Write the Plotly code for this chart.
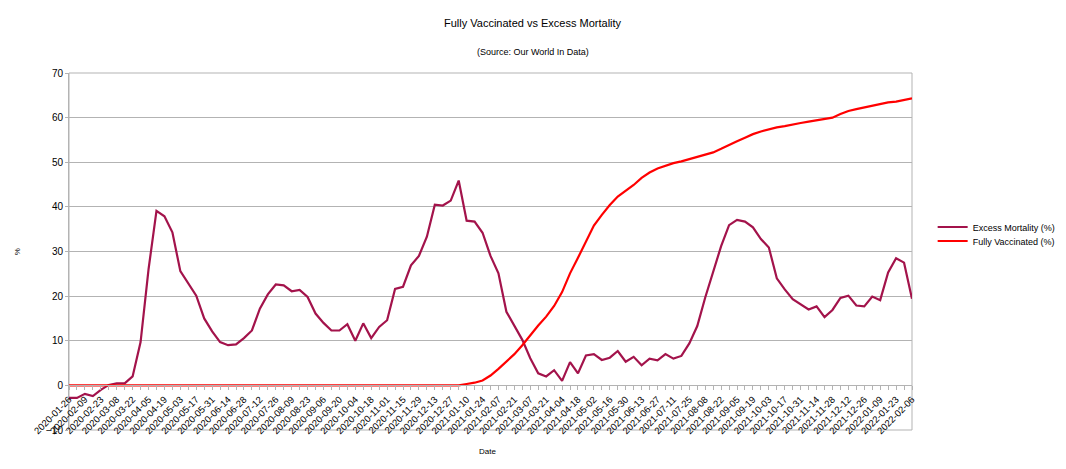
import pandas as pd
import plotly.graph_objects as go

# Weekly dates (categories)
dates = pd.date_range("2020-01-26", periods=107, freq="7D")

excess_mortality = [
    -2.8, -2.8, -1.9, -2.4, -1.0, 0.1, 0.45, 0.45, 2.0, 9.7,
    26.0, 39.1, 37.9, 34.3, 25.6, 23.0, 20.1, 15.0, 12.1, 9.7,
    9.0, 9.2, 10.6, 12.3, 17.2, 20.4, 22.6, 22.4, 21.1, 21.4,
    19.8, 16.1, 14.0, 12.3, 12.3, 13.7, 10.0, 13.9, 10.6, 13.1,
    14.6, 21.6, 22.1, 26.9, 29.0, 33.3, 40.5, 40.3, 41.4, 45.9,
    36.9, 36.7, 34.2, 29.0, 25.1, 16.5, 13.5, 10.2, 6.1, 2.7,
    2.0, 3.4, 1.0, 5.2, 2.7, 6.7, 7.0, 5.7, 6.2, 7.7,
    5.3, 6.4, 4.5, 6.0, 5.6, 7.0, 6.0, 6.6, 9.4, 13.3,
    19.7, 25.2, 31.2, 35.9, 37.1, 36.7, 35.4, 32.8, 30.9, 24.0,
    21.5, 19.3, 18.1, 17.0, 17.7, 15.3, 16.9, 19.6, 20.1, 17.9,
    17.7, 19.9, 19.1, 25.3, 28.5, 27.5, 19.4,
]

fully_vaccinated = [0.0] * 50 + [
    0.3, 0.6, 1.1, 2.2, 3.7, 5.4, 7.0, 9.0, 11.3, 13.4,
    15.4, 17.8, 20.9, 25.1, 28.6, 32.3, 35.8, 38.2, 40.4, 42.3,
    43.5, 44.9, 46.5, 47.7, 48.6, 49.2, 49.8, 50.2, 50.7, 51.1,
    51.6, 52.2, 53.0, 53.9, 54.7, 55.5, 56.3, 56.9, 57.4, 57.8,
    58.1, 58.5, 58.8, 59.1, 59.4, 59.6, 60.0, 60.8, 61.5, 61.9,
    62.3, 62.6, 63.1, 63.4, 63.6, 63.9, 64.3,
]

series_names = ["Excess Mortality (%)", "Fully Vaccinated (%)"]
title_text = "Fully Vaccinated vs Excess Mortality"
subtitle_text = "(Source: Our World In Data)"

FONT = "Liberation Sans, Arial, sans-serif"
GRID = "#b3b3b3"
DAY_MS = 86400000

fig = go.Figure()
fig.add_trace(go.Scatter(x=dates, y=excess_mortality, mode="lines",
                         name=series_names[0], legend="legend",
                         line=dict(color="#a3134b", width=2.2)))
fig.add_trace(go.Scatter(x=dates, y=fully_vaccinated, mode="lines",
                         name=series_names[1], legend="legend2",
                         line=dict(color="#ff0000", width=2.2)))

legend_common = dict(xanchor="left", yanchor="middle",
                     font=dict(size=9, family=FONT, color="#000000"),
                     bgcolor="rgba(0,0,0,0)", borderwidth=0, itemwidth=30)

fig.update_layout(
    width=1066, height=469,
    margin=dict(l=69, r=154, t=73, b=39, autoexpand=False),
    paper_bgcolor="white", plot_bgcolor="white",
    font=dict(family=FONT, size=10, color="#000000"),
    showlegend=True,
    legend=dict(x=1.0245, y=0.5686, **legend_common),
    legend2=dict(x=1.0245, y=0.5294, **legend_common),
    shapes=[dict(type="rect", xref="paper", yref="paper", x0=0, x1=1, y0=0, y1=1,
                 line=dict(color=GRID, width=1), layer="below")],
    annotations=[
        dict(text=title_text, xref="paper", yref="paper", x=0.551, y=1.140,
             xanchor="center", yanchor="middle", showarrow=False,
             font=dict(size=11, family=FONT, color="#000000")),
        dict(text=subtitle_text, xref="paper", yref="paper", x=0.551, y=1.060,
             xanchor="center", yanchor="middle", showarrow=False,
             font=dict(size=9, family=FONT, color="#000000")),
        dict(text="Date", xref="paper", yref="paper", x=0.496, y=-0.0616,
             xanchor="center", yanchor="middle", showarrow=False,
             font=dict(size=8, family=FONT, color="#000000")),
        dict(text="%", xref="paper", yref="paper", x=-0.0617, y=0.501,
             xanchor="center", yanchor="middle", showarrow=False, textangle=-90,
             font=dict(size=8, family=FONT, color="#000000")),
    ],
)

fig.update_xaxes(
    type="date",
    range=[dates[0], dates[-1]],
    anchor="free", position=0.125,
    showgrid=False, zeroline=False,
    showline=True, linecolor=GRID, linewidth=1,
    tickmode="linear", tick0=dates[0], dtick=14 * DAY_MS,
    tickformat="%Y-%m-%d", tickangle=-45,
    ticks="outside", ticklen=4, tickcolor=GRID,
    tickfont=dict(size=9.5, family=FONT, color="#000000"),
    minor=dict(ticks="outside", ticklen=4, tickcolor=GRID,
               tickmode="linear", tick0=dates[0], dtick=7 * DAY_MS, showgrid=False),
)

fig.update_yaxes(
    range=[-10, 70], dtick=10, tick0=0,
    showgrid=True, gridcolor=GRID, gridwidth=1,
    zeroline=False,
    showline=True, linecolor=GRID, linewidth=1,
    ticks="outside", ticklen=3, tickcolor=GRID,
    tickfont=dict(size=10, family=FONT, color="#000000"),
)

fig.write_html(
    "out.html",
    config={"displayModeBar": False},
    post_script="document.body.style.margin='0';document.body.style.overflow='hidden';",
)
